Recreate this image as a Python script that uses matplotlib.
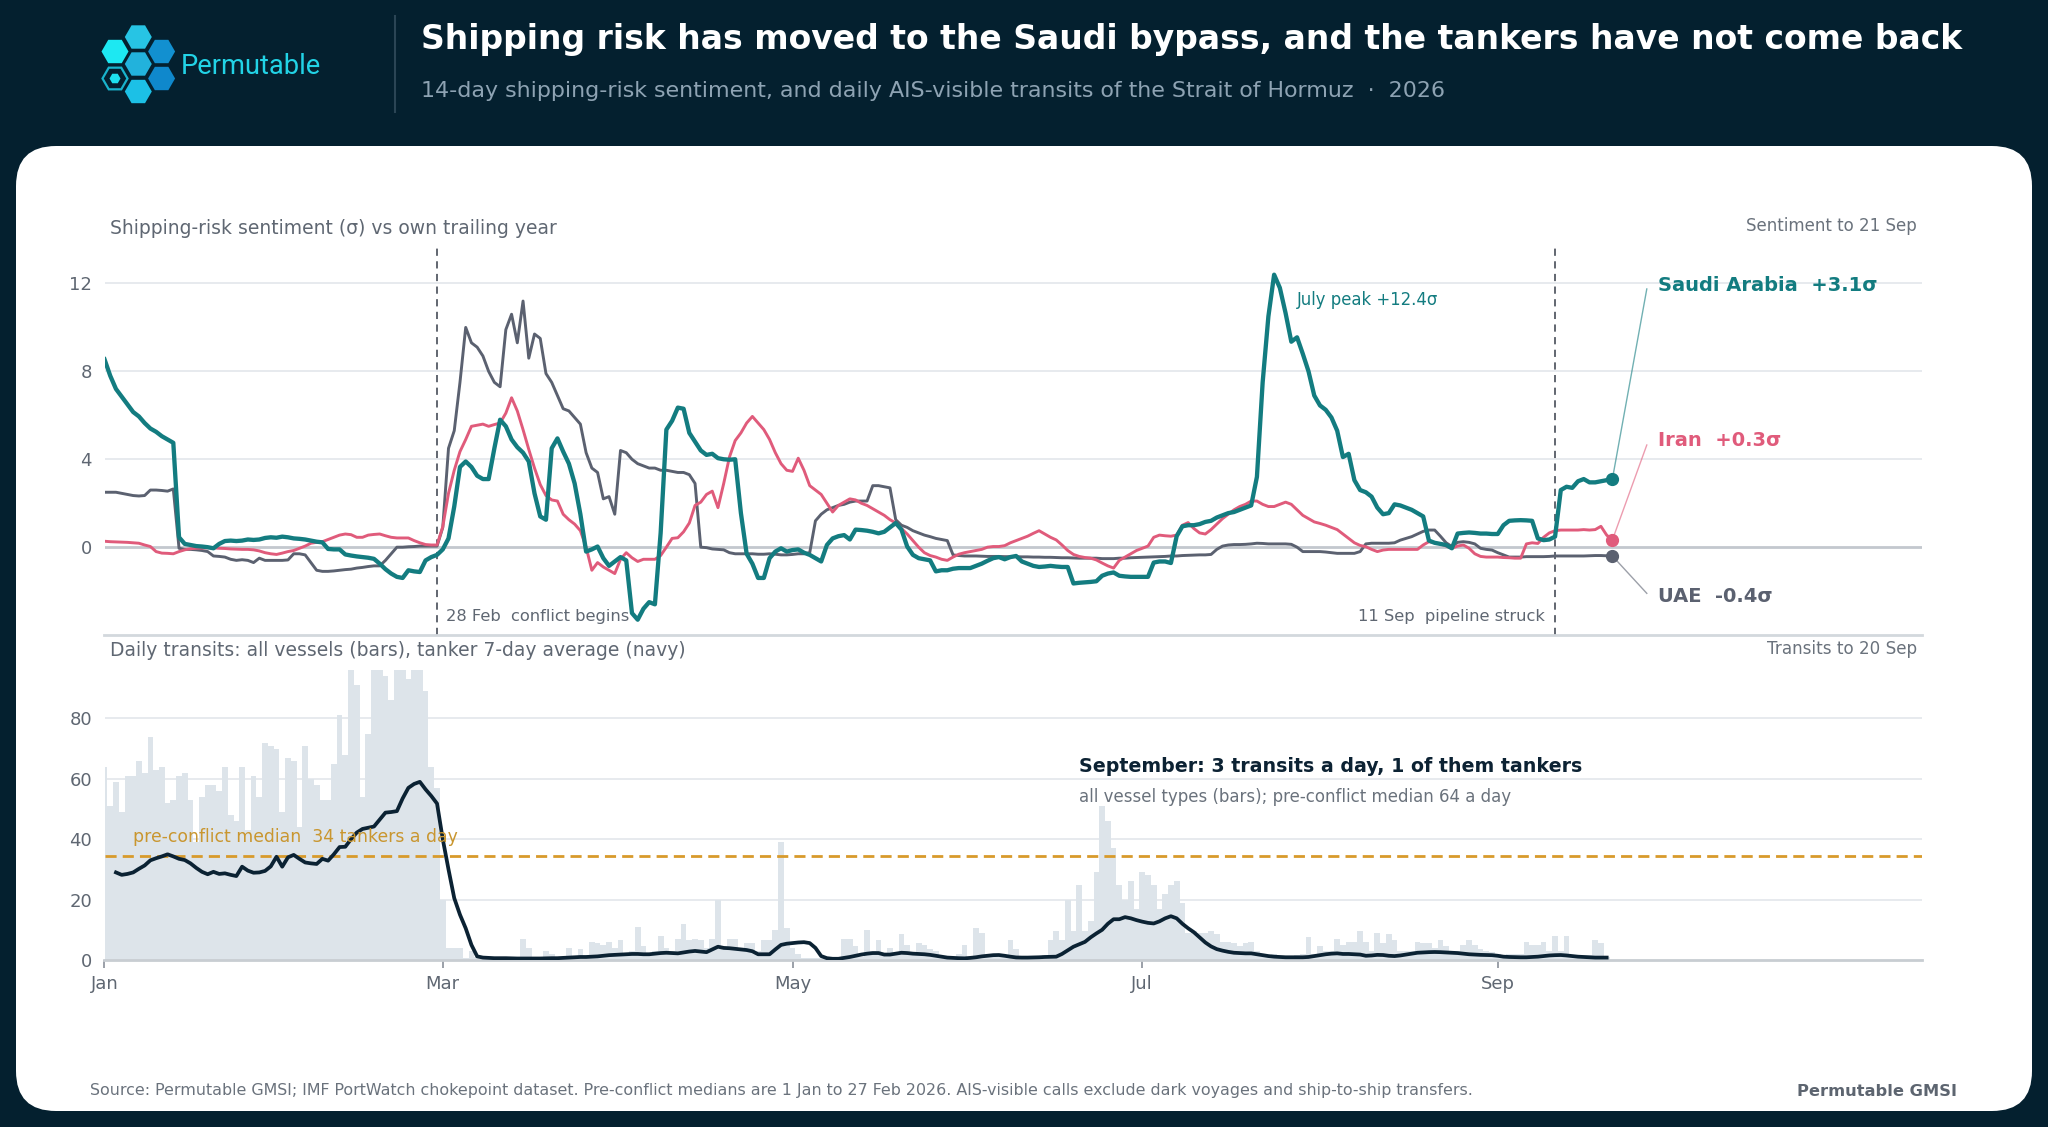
import numpy as np
import matplotlib
matplotlib.use("Agg")
import matplotlib.pyplot as plt
import matplotlib.dates as mdates
from matplotlib.patches import FancyBboxPatch, RegularPolygon

# ---------------- data ----------------
sentiment_start = '2026-01-01'   # daily, 1 Jan .. 21 Sep
transit_start = '2026-01-01'     # daily, 1 Jan .. 20 Sep
tanker_start = '2026-01-03'      # tanker 7-day average, 3 Jan .. 20 Sep

saudi = [
    8.55, 7.8, 7.2, 6.85, 6.5, 6.15, 5.95, 5.65, 5.4, 5.25,
    5.05, 4.9, 4.75, 0.45, 0.15, 0.1, 0.05, 0.03, 0.0, -0.05,
    0.15, 0.28, 0.3, 0.28, 0.3, 0.35, 0.33, 0.35, 0.42, 0.45,
    0.43, 0.48, 0.45, 0.4, 0.38, 0.35, 0.3, 0.25, 0.22, -0.08,
    -0.1, -0.1, -0.33, -0.38, -0.42, -0.45, -0.48, -0.53, -0.75, -1.0,
    -1.2, -1.35, -1.4, -1.05, -1.1, -1.13, -0.6, -0.45, -0.35, -0.1,
    0.4, 1.85, 3.65, 3.9, 3.65, 3.25, 3.1, 3.1, 4.5, 5.8,
    5.5, 4.9, 4.55, 4.3, 3.9, 2.45, 1.4, 1.25, 4.5, 4.95,
    4.35, 3.8, 2.9, 1.5, -0.2, -0.1, 0.03, -0.5, -0.85, -0.65,
    -0.45, -0.6, -3.0, -3.3, -2.8, -2.5, -2.6, 0.65, 5.35, 5.75,
    6.35, 6.3, 5.2, 4.8, 4.4, 4.2, 4.25, 4.05, 4.0, 3.98,
    4.0, 1.55, -0.3, -0.75, -1.4, -1.4, -0.5, -0.2, -0.05, -0.2,
    -0.13, -0.1, -0.25, -0.35, -0.5, -0.65, 0.1, 0.4, 0.5, 0.55,
    0.35, 0.8, 0.78, 0.75, 0.7, 0.63, 0.7, 0.9, 1.1, 0.8,
    0.03, -0.35, -0.5, -0.55, -0.6, -1.1, -1.05, -1.05, -0.98, -0.95,
    -0.95, -0.95, -0.85, -0.75, -0.62, -0.5, -0.45, -0.55, -0.45, -0.4,
    -0.65, -0.75, -0.85, -0.9, -0.88, -0.85, -0.88, -0.9, -0.9, -1.65,
    -1.62, -1.6, -1.58, -1.55, -1.3, -1.2, -1.15, -1.3, -1.33, -1.35,
    -1.35, -1.35, -1.35, -0.7, -0.65, -0.65, -0.72, 0.5, 0.95, 1.0,
    1.0, 1.05, 1.15, 1.2, 1.35, 1.45, 1.55, 1.6, 1.7, 1.8,
    1.9, 3.2, 7.5, 10.5, 12.4, 11.8, 10.65, 9.35, 9.55, 8.8,
    8.0, 6.9, 6.45, 6.25, 5.9, 5.3, 4.1, 4.25, 3.05, 2.6,
    2.5, 2.3, 1.8, 1.5, 1.55, 1.95, 1.9, 1.8, 1.7, 1.55,
    1.4, 0.3, 0.2, 0.15, 0.1, -0.05, 0.62, 0.65, 0.67, 0.65,
    0.62, 0.62, 0.6, 0.6, 1.0, 1.2, 1.22, 1.23, 1.22, 1.2,
    0.4, 0.32, 0.35, 0.48, 2.6, 2.75, 2.7, 3.0, 3.1, 2.95,
    2.95, 3.0, 3.05, 3.1,
]

iran = [
    0.27, 0.25, 0.24, 0.23, 0.22, 0.2, 0.18, 0.1, 0.03, -0.2,
    -0.27, -0.28, -0.3, -0.2, -0.12, -0.07, -0.05, -0.04, -0.03, -0.03,
    -0.05, -0.06, -0.08, -0.09, -0.1, -0.1, -0.12, -0.17, -0.25, -0.3,
    -0.33, -0.27, -0.2, -0.15, -0.05, 0.05, 0.18, 0.22, 0.25, 0.35,
    0.45, 0.55, 0.6, 0.57, 0.45, 0.45, 0.55, 0.58, 0.6, 0.52,
    0.45, 0.42, 0.42, 0.42, 0.3, 0.2, 0.12, 0.1, 0.1, 0.93,
    2.45, 3.5, 4.35, 4.9, 5.5, 5.55, 5.6, 5.5, 5.58, 5.65,
    6.1, 6.8, 6.2, 5.35, 4.45, 3.6, 2.85, 2.35, 2.15, 2.1,
    1.5, 1.25, 1.05, 0.75, 0.0, -1.05, -0.7, -0.9, -1.05, -1.2,
    -0.55, -0.25, -0.48, -0.65, -0.55, -0.55, -0.55, -0.38, 0.0, 0.4,
    0.43, 0.7, 1.1, 1.9, 2.05, 2.4, 2.55, 1.8, 2.9, 4.1,
    4.85, 5.2, 5.65, 5.95, 5.65, 5.35, 4.9, 4.3, 3.8, 3.5,
    3.45, 4.05, 3.5, 2.8, 2.6, 2.4, 2.0, 1.6, 1.9, 2.05,
    2.2, 2.15, 2.0, 1.9, 1.75, 1.6, 1.45, 1.25, 1.1, 0.85,
    0.6, 0.3, 0.0, -0.25, -0.38, -0.45, -0.55, -0.6, -0.45, -0.32,
    -0.25, -0.2, -0.15, -0.1, 0.0, 0.03, 0.03, 0.07, 0.2, 0.3,
    0.4, 0.5, 0.63, 0.75, 0.6, 0.45, 0.33, 0.1, -0.15, -0.33,
    -0.42, -0.47, -0.5, -0.58, -0.72, -0.85, -0.95, -0.6, -0.45, -0.3,
    -0.15, -0.05, 0.05, 0.45, 0.55, 0.52, 0.5, 0.55, 1.0, 1.12,
    0.85, 0.65, 0.6, 0.8, 1.05, 1.3, 1.5, 1.7, 1.85, 1.95,
    2.1, 2.1, 1.95, 1.85, 1.85, 1.95, 2.05, 1.95, 1.7, 1.45,
    1.3, 1.15, 1.08, 1.0, 0.9, 0.8, 0.6, 0.4, 0.2, 0.08,
    0.02, -0.1, -0.2, -0.13, -0.1, -0.1, -0.1, -0.1, -0.1, -0.1,
    0.1, 0.25, 0.2, 0.15, 0.05, -0.05, 0.05, 0.1, -0.05, -0.3,
    -0.42, -0.45, -0.45, -0.45, -0.47, -0.48, -0.5, -0.5, 0.15, 0.2,
    0.17, 0.45, 0.65, 0.75, 0.78, 0.78, 0.78, 0.78, 0.8, 0.78,
    0.8, 0.95, 0.55, 0.33,
]

uae = [
    2.5, 2.5, 2.5, 2.45, 2.4, 2.35, 2.33, 2.35, 2.6, 2.6,
    2.58, 2.55, 2.65, -0.05, -0.1, -0.1, -0.12, -0.15, -0.2, -0.4,
    -0.42, -0.45, -0.55, -0.6, -0.57, -0.6, -0.7, -0.5, -0.6, -0.6,
    -0.6, -0.6, -0.58, -0.3, -0.3, -0.35, -0.7, -1.05, -1.1, -1.1,
    -1.08, -1.05, -1.02, -1.0, -0.95, -0.92, -0.88, -0.85, -0.85, -0.6,
    -0.3, 0.0, 0.0, 0.02, 0.03, 0.05, 0.05, 0.05, 0.05, 0.9,
    4.5, 5.3, 7.5, 10.0, 9.3, 9.1, 8.7, 8.0, 7.5, 7.3,
    9.9, 10.6, 9.3, 11.2, 8.6, 9.7, 9.5, 7.9, 7.5, 6.9,
    6.3, 6.2, 5.9, 5.6, 4.3, 3.6, 3.4, 2.2, 2.3, 1.5,
    4.4, 4.3, 4.0, 3.8, 3.7, 3.6, 3.6, 3.5, 3.5, 3.45,
    3.4, 3.4, 3.3, 2.9, 0.0, -0.02, -0.08, -0.1, -0.12, -0.25,
    -0.3, -0.3, -0.3, -0.3, -0.32, -0.32, -0.3, -0.32, -0.35, -0.35,
    -0.33, -0.3, -0.3, -0.25, 1.2, 1.5, 1.7, 1.8, 1.9, 1.95,
    2.05, 2.1, 2.1, 2.1, 2.8, 2.8, 2.75, 2.7, 1.25, 1.0,
    0.9, 0.75, 0.65, 0.55, 0.48, 0.4, 0.35, 0.3, -0.35, -0.38,
    -0.4, -0.4, -0.4, -0.41, -0.42, -0.42, -0.42, -0.43, -0.43, -0.43,
    -0.44, -0.44, -0.45, -0.45, -0.46, -0.46, -0.47, -0.48, -0.48, -0.49,
    -0.5, -0.5, -0.5, -0.5, -0.52, -0.52, -0.52, -0.5, -0.5, -0.48,
    -0.47, -0.46, -0.45, -0.44, -0.43, -0.42, -0.4, -0.4, -0.38, -0.37,
    -0.36, -0.35, -0.35, -0.33, -0.1, 0.05, 0.1, 0.12, 0.12, 0.13,
    0.15, 0.18, 0.17, 0.15, 0.15, 0.15, 0.15, 0.13, 0.0, -0.2,
    -0.2, -0.2, -0.2, -0.22, -0.25, -0.28, -0.28, -0.28, -0.28, -0.2,
    0.15, 0.18, 0.18, 0.18, 0.18, 0.2, 0.32, 0.4, 0.48, 0.6,
    0.72, 0.78, 0.78, 0.5, 0.2, 0.03, 0.22, 0.25, 0.22, 0.15,
    -0.05, -0.1, -0.13, -0.25, -0.35, -0.45, -0.45, -0.45, -0.43, -0.43,
    -0.43, -0.43, -0.42, -0.4, -0.4, -0.4, -0.4, -0.4, -0.4, -0.39,
    -0.38, -0.38, -0.39, -0.4,
]

transits_all = [
    64, 51, 59, 49, 61, 61, 66, 62, 74, 63,
    64, 52, 53, 61, 62, 53, 39, 54, 58, 58,
    56, 64, 48, 46, 64, 43, 61, 54, 72, 71,
    70, 49, 67, 66, 44, 71, 60, 58, 53, 53,
    65, 81, 68, 101, 91, 54, 75, 104, 99, 94,
    86, 103, 98, 93, 106, 97, 89, 64, 57, 20,
    4, 4, 4, 0.5, 3, 1, 1, 0.5, 1, 0.5,
    1, 0.5, 1, 7, 4, 1, 0.5, 3, 2, 1,
    1, 4, 1, 3.5, 1, 6, 5.5, 5, 6, 4,
    6.5, 2, 3, 11, 4.5, 2, 3, 8, 4, 3,
    7, 12, 6.5, 7, 6.5, 4, 7, 20, 4, 7,
    7, 3, 5.5, 5.5, 3, 6.5, 6.5, 10, 39, 10.5,
    4, 2, 0.5, 0.5, 0.5, 0.5, 0.5, 0.5, 1, 7,
    7, 4.5, 1, 10, 3, 6.5, 2, 4, 2, 8.5,
    5, 2, 5.7, 5, 3.5, 3, 1, 1, 1, 2,
    5, 1, 10.5, 9, 1, 1, 1, 1.5, 6.5, 3.5,
    1, 1, 1, 1, 1.5, 6.5, 9.5, 6.5, 20, 9.5,
    25, 9.5, 13, 29, 51, 46, 37, 25, 20, 26,
    17, 29, 28, 25, 17, 22, 25, 26, 19, 9,
    9.5, 9, 9, 9.5, 8.5, 6, 6, 5.5, 4.5, 5.5,
    6, 3, 2, 1.5, 2, 1, 1, 1, 1.5, 2,
    7.5, 2, 4.5, 3, 3, 7, 5, 6, 6, 9.5,
    6, 3, 9, 5.5, 8.5, 6.5, 3, 3, 3, 6,
    5.5, 5.5, 4, 6.5, 4.5, 3, 3, 5, 6.5, 5,
    3.5, 3, 2.5, 2, 1, 2, 2, 2, 6, 5,
    5, 6, 3, 8, 3, 8, 1, 1, 1.5, 1.5,
    6.5, 5.5, 1,
]

tanker_7d = [
    29.0, 28.2, 28.5, 29.0, 30.2, 31.3, 33.0, 33.7,
    34.3, 35.0, 34.3, 33.5, 33.1, 32.0, 30.5, 29.2, 28.4, 29.2,
    28.5, 28.7, 28.2, 27.8, 30.9, 29.6, 28.9, 29.0, 29.5, 31.0,
    34.2, 30.9, 34.0, 34.8, 33.5, 32.3, 32.0, 31.8, 33.5, 32.9,
    35.0, 37.4, 37.5, 40.0, 42.2, 43.4, 43.8, 44.2, 46.5, 48.8,
    49.0, 49.3, 53.5, 57.0, 58.3, 59.0, 56.5, 54.3, 51.8, 40.0,
    30.0, 20.5, 15.0, 10.5, 5.0, 1.2, 0.8, 0.7, 0.6, 0.6,
    0.6, 0.55, 0.5, 0.5, 0.5, 0.5, 0.5, 0.55, 0.6, 0.6,
    0.7, 0.8, 0.9, 1.0, 1.0, 1.1, 1.2, 1.4, 1.6, 1.7,
    1.8, 1.9, 2.0, 2.0, 1.9, 1.9, 2.1, 2.3, 2.4, 2.3,
    2.2, 2.5, 2.8, 3.0, 2.8, 2.6, 3.5, 4.4, 4.0, 3.9,
    3.7, 3.5, 3.3, 2.9, 1.9, 1.9, 1.9, 3.5, 5.0, 5.4,
    5.6, 5.8, 5.9, 5.6, 4.0, 1.3, 0.6, 0.4, 0.4, 0.7,
    1.0, 1.4, 1.8, 2.1, 2.3, 2.3, 1.8, 1.8, 2.1, 2.4,
    2.3, 2.1, 2.0, 1.9, 1.7, 1.4, 1.1, 0.8, 0.7, 0.6,
    0.55, 0.7, 0.9, 1.2, 1.4, 1.6, 1.65, 1.4, 1.1, 0.85,
    0.8, 0.8, 0.85, 0.9, 1.0, 1.05, 1.1, 2.0, 3.2, 4.4,
    5.2, 6.0, 7.5, 8.8, 10.0, 12.0, 13.5, 13.5, 14.2, 13.8,
    13.2, 12.7, 12.3, 12.1, 12.8, 13.8, 14.5, 13.8, 12.0, 10.5,
    9.2, 7.5, 5.8, 4.5, 3.6, 3.1, 2.7, 2.4, 2.3, 2.2,
    2.2, 1.9, 1.6, 1.3, 1.1, 1.0, 0.9, 0.9, 0.9, 0.9,
    1.0, 1.3, 1.6, 1.9, 2.1, 2.2, 2.0, 2.0, 1.9, 1.8,
    1.4, 1.5, 1.7, 1.65, 1.4, 1.3, 1.5, 1.8, 2.1, 2.4,
    2.5, 2.6, 2.65, 2.6, 2.5, 2.4, 2.3, 2.1, 1.9, 1.8,
    1.7, 1.65, 1.6, 1.4, 1.1, 1.0, 0.95, 0.9, 0.9, 1.0,
    1.1, 1.3, 1.5, 1.6, 1.65, 1.5, 1.3, 1.1, 1.0, 0.9,
    0.8, 0.8, 0.8,
]

tanker_median = 34.5
month_ticks = ['2026-01-01', '2026-03-01', '2026-05-01', '2026-07-01', '2026-09-01']
month_labels = ['Jan', 'Mar', 'May', 'Jul', 'Sep']
events = ['2026-02-28', '2026-09-11']
end_labels = ['Saudi Arabia  +3.1σ', 'Iran  +0.3σ', 'UAE  -0.4σ']

# ---------------- helpers ----------------
def days(start, n):
    return np.datetime64(start) + np.arange(n).astype('timedelta64[D]')

def dnum(s, offset=0.0):
    return mdates.date2num(np.datetime64(s)) + offset

s_dates = days(sentiment_start, len(saudi))
b_dates = days(transit_start, len(transits_all))
t_dates = days(tanker_start, len(tanker_7d))

W, H = 2048, 1127
BG = '#04202f'
TEAL = '#137c80'
PINK = '#e05b7b'
SLATE = '#5b6170'
NAVY = '#0b2233'
GREY_TXT = '#5f6772'
GRID = '#e7eaee'

fig = plt.figure(figsize=(W / 100, H / 100), dpi=100, facecolor=BG)

# background / frame axes in pixel coordinates
bg = fig.add_axes([0, 0, 1, 1])
bg.set_xlim(0, W)
bg.set_ylim(H, 0)
bg.axis('off')
bg.set_zorder(0)

bg.add_patch(FancyBboxPatch((16, 146), 2016, 965,
                            boxstyle='round,pad=0,rounding_size=40',
                            fc='white', ec='none'))
bg.plot([394.5, 394.5], [16, 112], color='#2b4555', lw=1.5)

# logo hexagons
hexes = [((138.3, 37.0), '#27c4e4'), ((115.0, 51.5), '#1de8f2'),
         ((161.6, 51.5), '#1290d0'), ((138.3, 64.0), '#22b2dc'),
         ((161.6, 78.5), '#0f88cc'), ((138.3, 91.5), '#1cc0e6')]
for (cx, cy), c in hexes:
    bg.add_patch(RegularPolygon((cx, cy), 6, radius=13.5,
                                orientation=np.pi / 6, fc=c, ec='none'))
bg.add_patch(RegularPolygon((115.0, 78.5), 6, radius=12.5, orientation=np.pi / 6,
                            fc='none', ec='#19b3cc', lw=1.6))
bg.add_patch(RegularPolygon((115.0, 78.5), 6, radius=5.5, orientation=np.pi / 6,
                            fc='#1de0ee', ec='none'))
bg.text(181, 66, 'Permutable', fontsize=19.6, color='#22d3e6', family='Roboto',
        va='center', ha='left')

bg.text(421, 40, 'Shipping risk has moved to the Saudi bypass, and the tankers have not come back',
        fontsize=23.8, fontweight='bold', color='white', va='center', ha='left')
bg.text(421, 91, '14-day shipping-risk sentiment, and daily AIS-visible transits of the Strait of Hormuz  ·  2026',
        fontsize=15.9, color='#8ea3b3', va='center', ha='left')

bg.text(110, 229, 'Shipping-risk sentiment (σ) vs own trailing year',
        fontsize=13.5, color=GREY_TXT, va='center', ha='left')
bg.text(1917, 226, 'Sentiment to 21 Sep', fontsize=12.0, color='#6a727c',
        va='center', ha='right')
bg.text(110, 651, 'Daily transits: all vessels (bars), tanker 7-day average (navy)',
        fontsize=13.5, color=GREY_TXT, va='center', ha='left')
bg.text(1917, 649, 'Transits to 20 Sep', fontsize=12.1, color='#6a727c',
        va='center', ha='right')

bg.text(90, 1091, 'Source: Permutable GMSI; IMF PortWatch chokepoint dataset. '
        'Pre-conflict medians are 1 Jan to 27 Feb 2026. AIS-visible calls exclude '
        'dark voyages and ship-to-ship transfers.',
        fontsize=11.4, color='#6a727c', va='center', ha='left')
bg.text(1957, 1091, 'Permutable GMSI', fontsize=11.7, fontweight='bold',
        color='#5d6570', va='center', ha='right')

xl = (dnum('2026-01-01'), dnum('2026-11-14'))

# ---------------- top panel ----------------
x0, x1 = 104.5, 1922.0
ax1 = fig.add_axes([x0 / W, 1 - 635.1 / H, (x1 - x0) / W, (635.1 - 248.3) / H])
ax1.set_zorder(2)
ax1.set_facecolor('none')
ax1.set_xlim(*xl)
ax1.set_ylim(-4, 13.6)
for sp in ['top', 'right', 'left']:
    ax1.spines[sp].set_visible(False)
ax1.spines['bottom'].set_color('#d3d8dd')
ax1.spines['bottom'].set_linewidth(2)
ax1.set_xticks([])
ax1.set_yticks([0, 4, 8, 12])
ax1.tick_params(axis='y', length=0, labelsize=13, labelcolor=GREY_TXT, pad=9)
for g in [4, 8, 12]:
    ax1.axhline(g, color=GRID, lw=1.4, zorder=0)
ax1.axhline(0, color='#c3c8ce', lw=2, zorder=1)

for e in events:
    ax1.axvline(dnum(e), color='#555b65', lw=1.3, ls=(0, (4, 3)), zorder=1)

ax1.plot(s_dates, uae, color=SLATE, lw=2.1, zorder=3)
ax1.plot(s_dates, iran, color=PINK, lw=2.1, zorder=3)
ax1.plot(s_dates, saudi, color=TEAL, lw=3.1, zorder=4)

series = [(saudi, TEAL, 11.9, 11.75), (iran, PINK, 4.87, 4.65), (uae, SLATE, -2.26, -2.1)]
xe = mdates.date2num(s_dates[-1])
for (vals, col, ly, cy), lab in zip(series, end_labels):
    ax1.plot([xe], [vals[-1]], 'o', ms=8.5, color=col, zorder=5)
    ax1.plot([xe, xe + 6], [vals[-1], cy], color=col, lw=1.0, alpha=0.6, zorder=2)
    ax1.text(xe + 8, ly, lab, fontsize=14, fontweight='bold', color=col,
             va='center', ha='left')

ax1.text(dnum('2026-02-28', 1.5), -3.15, '28 Feb  conflict begins', fontsize=11.7,
         color=GREY_TXT, va='center', ha='left')
ax1.text(dnum('2026-09-11', -1.7), -3.15, '11 Sep  pipeline struck', fontsize=11.7,
         color=GREY_TXT, va='center', ha='right')
ax1.text(dnum('2026-07-28'), 11.23, 'July peak +12.4σ', fontsize=11.9,
         color=TEAL, va='center', ha='left')

# ---------------- bottom panel ----------------
ax2 = fig.add_axes([x0 / W, 1 - 960 / H, (x1 - x0) / W, (960 - 670.1) / H])
ax2.set_zorder(2)
ax2.set_facecolor('none')
ax2.set_xlim(*xl)
ax2.set_ylim(0, 96)
for sp in ['top', 'right', 'left']:
    ax2.spines[sp].set_visible(False)
ax2.spines['bottom'].set_color('#c8cdd2')
ax2.spines['bottom'].set_linewidth(2)
for g in [20, 40, 60, 80]:
    ax2.axhline(g, color=GRID, lw=1.4, zorder=0)

ax2.bar(b_dates, transits_all, width=1.0, color='#dde4ea', edgecolor='none',
        align='center', zorder=1)
ax2.axhline(tanker_median, color='#d89a2b', lw=2.0, ls=(0, (4, 2.2)), zorder=2)
ax2.plot(t_dates, tanker_7d, color=NAVY, lw=2.7, zorder=3)

ax2.set_yticks([0, 20, 40, 60, 80])
ax2.set_xticks([dnum(m) for m in month_ticks])
ax2.set_xticklabels(month_labels)
ax2.tick_params(axis='y', length=0, labelsize=13, labelcolor=GREY_TXT, pad=9)
ax2.tick_params(axis='x', length=6, width=1.2, color='#8a9099', labelsize=13,
                labelcolor=GREY_TXT, pad=5)

ax2.text(dnum('2026-01-06'), 40.6, 'pre-conflict median  34 tankers a day',
         fontsize=12.4, color='#c9962f', va='center', ha='left')
ax2.text(dnum('2026-06-20'), 64, 'September: 3 transits a day, 1 of them tankers',
         fontsize=13.7, fontweight='bold', color='#0c2233', va='center', ha='left')
ax2.text(dnum('2026-06-20'), 54, 'all vessel types (bars); pre-conflict median 64 a day',
         fontsize=12.0, color='#6a727c', va='center', ha='left')

fig.savefig('out.png', dpi=100, facecolor=BG)
